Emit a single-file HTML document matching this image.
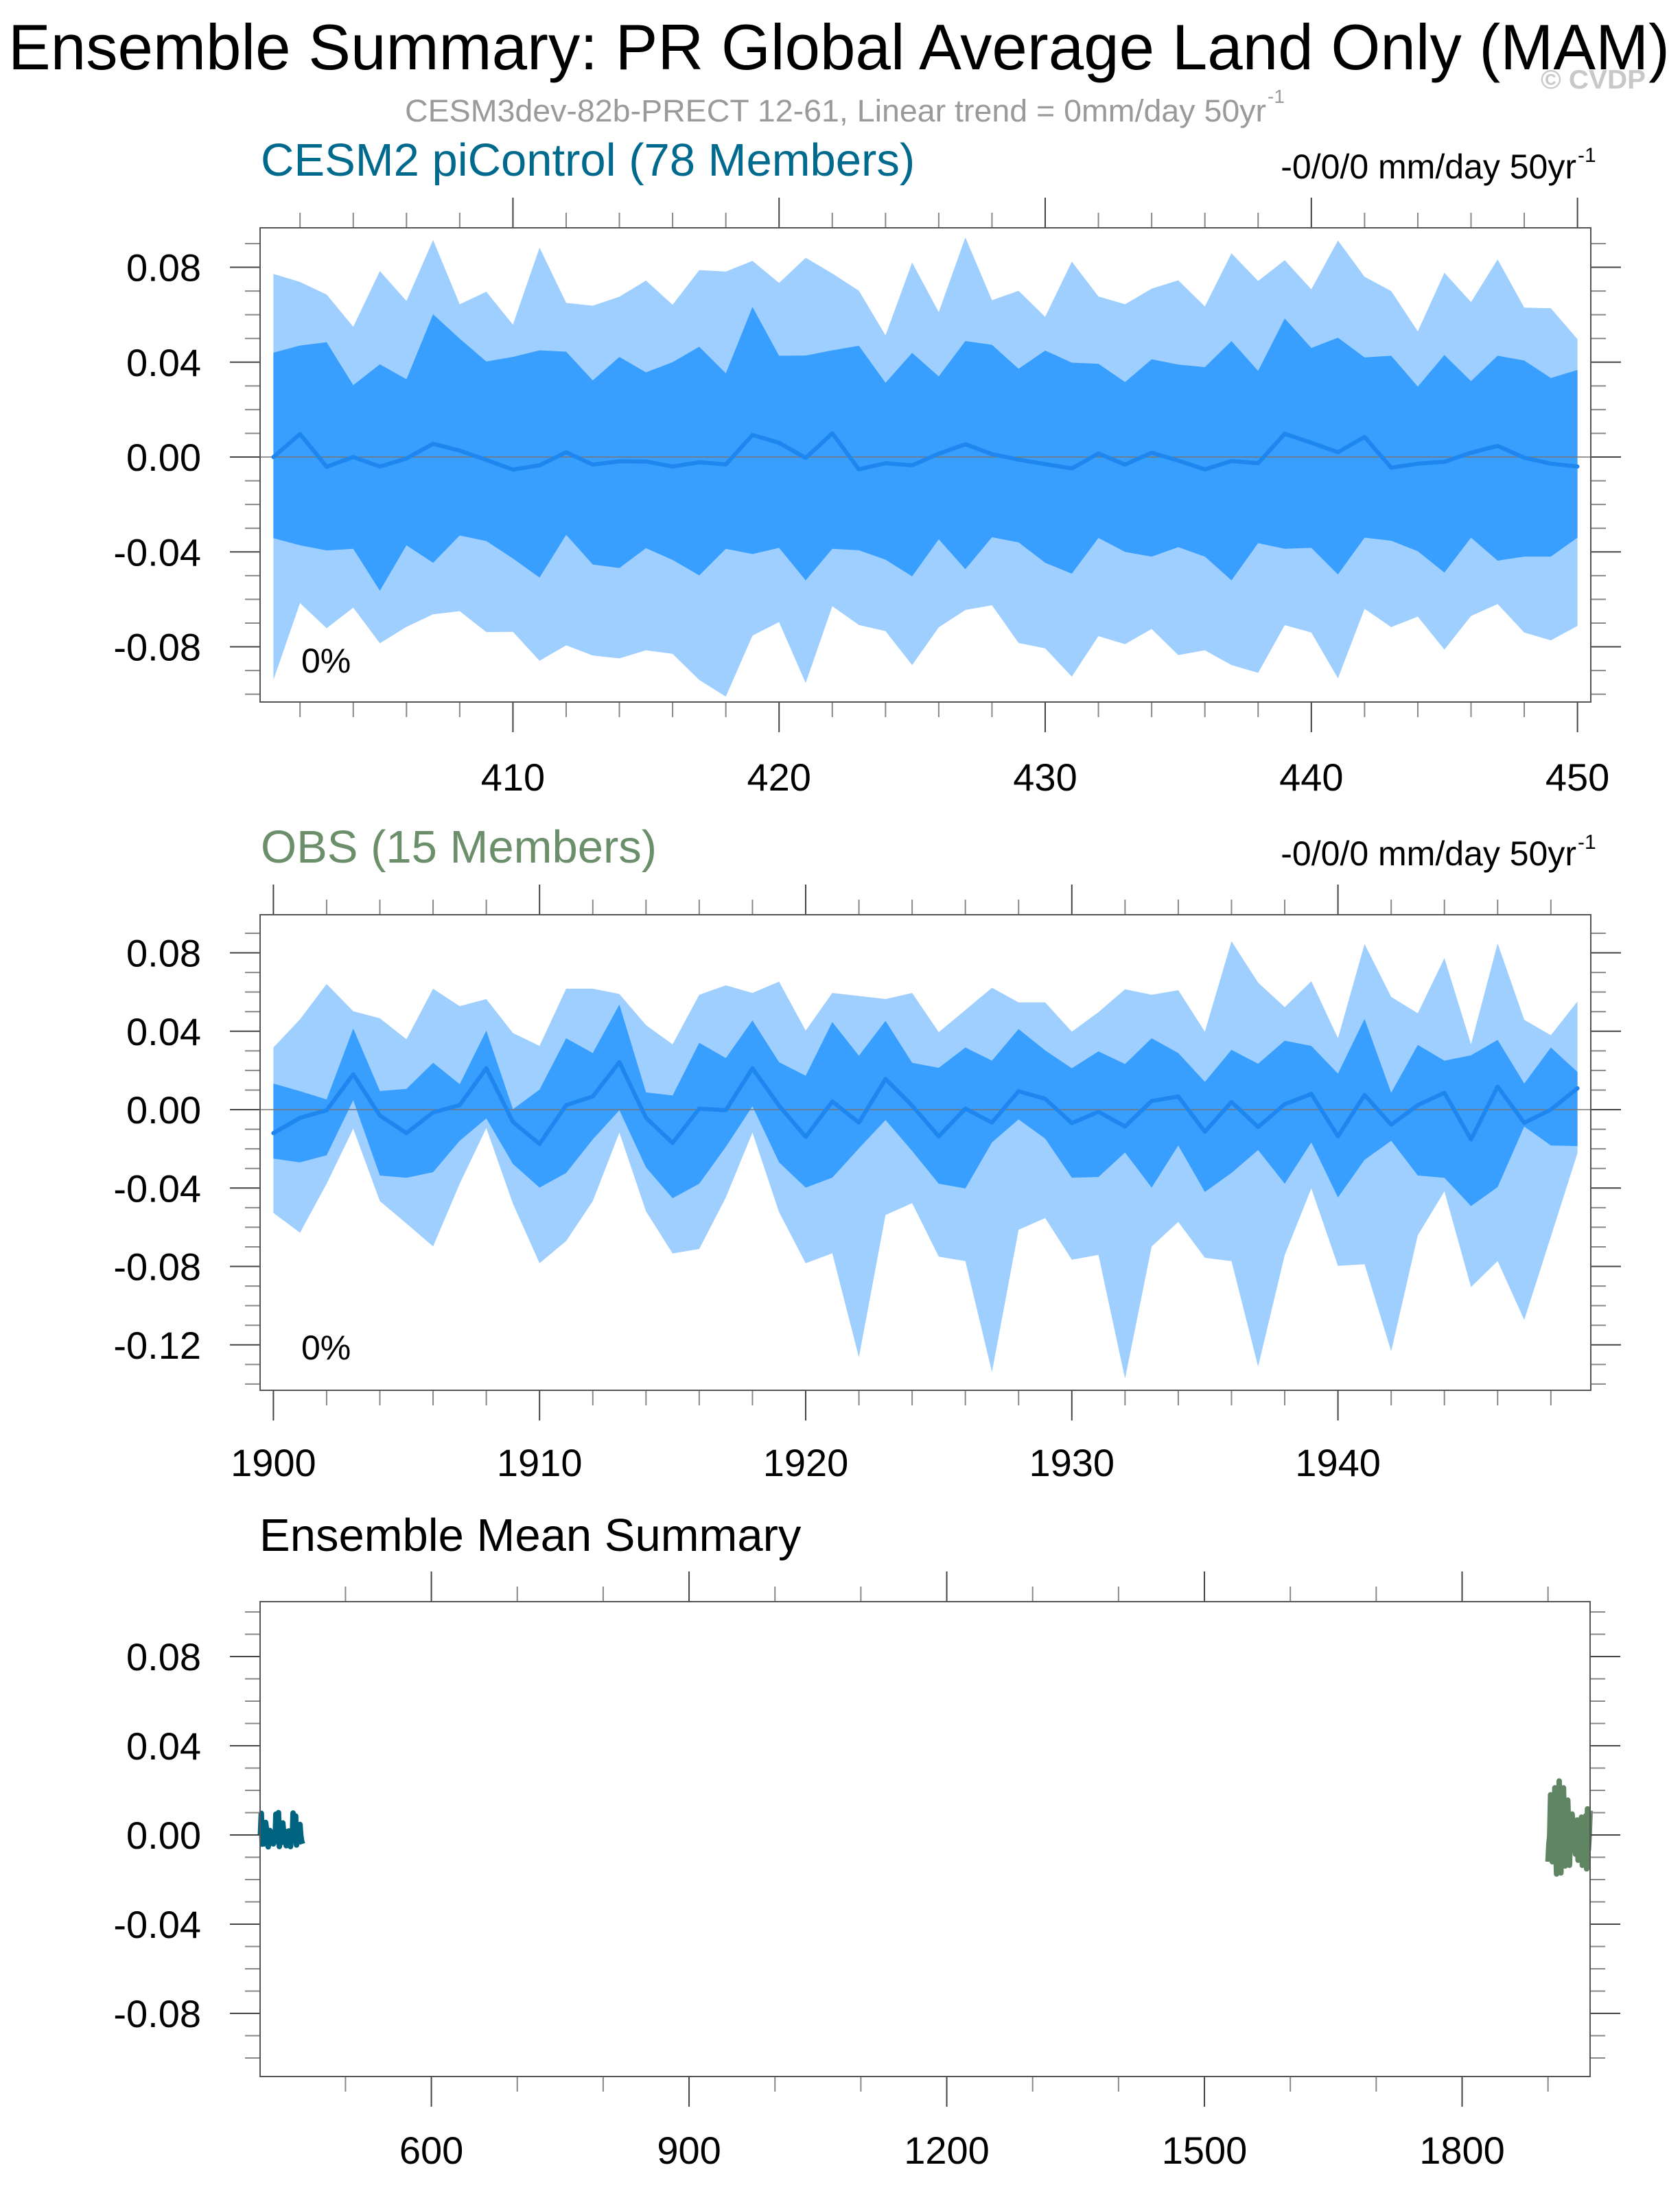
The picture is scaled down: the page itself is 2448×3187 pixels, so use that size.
<!DOCTYPE html>
<html><head><meta charset="utf-8"><title>Ensemble Summary</title>
<style>html,body{margin:0;padding:0;background:#fff}svg{display:block;font-family:"Liberation Sans",Arial,sans-serif}</style>
</head><body>
<svg id="chart" xmlns="http://www.w3.org/2000/svg" width="2448" height="3187" viewBox="0 0 2448 3187">
<text x="12" y="101" font-size="94" textLength="2421" lengthAdjust="spacingAndGlyphs" fill="#000">Ensemble Summary: PR Global Average Land Only (MAM)</text>
<text x="2245" y="129" font-size="39" font-weight="bold" fill="#c8c8c8" textLength="153" lengthAdjust="spacingAndGlyphs">© CVDP</text>
<text x="590" y="177" font-size="45" fill="#9a9a9a" textLength="1255" lengthAdjust="spacingAndGlyphs">CESM3dev-82b-PRECT 12-61, Linear trend = 0mm/day 50yr</text>
<text x="1847" y="150" font-size="28" fill="#9a9a9a">-1</text>
<g id="plots"></g>
</svg>
<script>
// ---- CESM2 piControl data (years 401..450) ----
const cesmYearStart = 401;
const cesmUpper2 = [.0772,.0738,.0685,.0549,.0784,.0658,.0915,.0644,.0697,.0558,.0883,.0650,.0638,.0676,.0744,.0642,.0788,.0782,.0827,
 .0734,.084,.0774,.0701,.0513,.082,.0611,.0926,.0661,.0701,.0591,.0824,.0677,.0644,.071,.0745,.0635,.0859,.0742,.083,
 .0707,.0913,.076,.07,.053,.0777,.0653,.0833,.063,.0627,.0497];
const cesmUpper1 = [.044,.047,.0484,.0303,.0391,.0328,.0602,.0499,.0403,.0422,.045,.0444,.0323,.0422,.0357,.04,.0465,.0353,.0633,
 .0427,.0428,.045,.0469,.0313,.0439,.034,.0489,.0473,.0372,.0449,.0398,.0393,.0316,.0412,.039,.0379,.0489,.0363,.0584,
 .046,.0503,.042,.0427,.0297,.043,.032,.0427,.0407,.0333,.0367];
const cesmMean = [0,.0097,-.0041,0,-.004,-.0006,.0056,.0027,-.0012,-.0053,-.0035,.002,-.0032,-.0018,-.0019,-.004,-.0022,-.0031,.0093,
 .006,-.0004,.01,-.0052,-.0026,-.0035,.0014,.0054,.0012,-.0011,-.003,-.0048,.0015,-.0032,.0018,-.0015,-.0052,-.0017,-.0026,.0098,
 .006,.002,.0085,-.0045,-.0028,-.002,.0018,.0047,-.0003,-.0028,-.004];
const cesmLower1 = [-.0342,-.0372,-.0394,-.0387,-.0564,-.0372,-.0446,-.0331,-.0354,-.0428,-.0508,-.0328,-.0453,-.0468,-.0384,-.0434,-.0499,-.0387,-.0409,
 -.0383,-.052,-.0387,-.0393,-.0433,-.0503,-.0347,-.0473,-.0338,-.036,-.0446,-.0492,-.0341,-.04,-.042,-.038,-.042,-.052,-.0363,-.0387,
 -.0383,-.0495,-.034,-.0353,-.0397,-.0487,-.034,-.0437,-.042,-.042,-.034];
const cesmLower2 = [-.094,-.0616,-.0722,-.0635,-.0785,-.0716,-.0663,-.065,-.0738,-.0737,-.0859,-.0794,-.0837,-.0849,-.0815,-.083,-.094,-.101,-.0753,
 -.0696,-.0953,-.0629,-.0708,-.0734,-.0877,-.0718,-.0645,-.0625,-.0784,-.0807,-.0926,-.0755,-.0789,-.0725,-.0835,-.0815,-.0877,-.091,-.0709,
 -.074,-.0933,-.064,-.0717,-.0673,-.0812,-.067,-.062,-.074,-.0773,-.0712];
// ---- OBS data (years 1900..1949) ----
const obsYearStart = 1900;
const obsUpper2 = [.0317,.0461,.0641,.0502,.0466,.0359,.0617,.0528,.0564,.0391,.0325,.0617,.0617,.059,.0431,.0333,.0586,.0634,
 .0595,.0653,.0403,.0595,.058,.0564,.0595,.0395,.0508,.0622,.0547,.0547,.0398,.0497,.0614,.0586,
 .0609,.0398,.0859,.0648,.0523,.0655,.0364,.0845,.0575,.0492,.0773,.0333,.0848,.0458,.038,.0552];
const obsUpper1 = [.0133,.0094,.0052,.0414,.0095,.0106,.0239,.013,.0403,.0002,.0102,.0364,.0289,.0536,.0088,.0072,.0341,.0263,
 .0455,.0242,.0173,.0447,.0275,.0453,.0239,.0213,.0317,.025,.0411,.0302,.0211,.0297,.0233,.0364,
 .0289,.0142,.0305,.0234,.0352,.0325,.0184,.0463,.0086,.033,.025,.0277,.0356,.0133,.0317,.0192];
const obsMean = [-.012,-.0042,-.0003,.018,-.003,-.012,-.0014,.0023,.0211,-.0063,-.0175,.0023,.0067,.0242,-.0042,-.017,.0005,-.0003,
 .0211,.002,-.0139,.0041,-.0066,.0156,.002,-.0136,.0005,-.0066,.0094,.0055,-.0069,-.0011,-.0086,.0044,
 .0067,-.0113,.0039,-.0089,.0028,.008,-.0136,.0075,-.0077,.0023,.0086,-.0152,.0117,-.0067,0,.0109];
const obsLower1 = [-.025,-.0269,-.0233,.0048,-.0336,-.0348,-.0319,-.0159,-.0045,-.0277,-.0398,-.0323,-.0152,-.0003,-.0295,-.0452,-.0378,-.019,
 .0017,-.0269,-.0398,-.0347,-.0198,-.0053,-.0211,-.0378,-.0402,-.0167,-.005,-.0148,-.0347,-.0344,-.0219,-.0398,
 -.0183,-.042,-.0323,-.0206,-.0378,-.0167,-.0448,-.0256,-.0159,-.0336,-.0348,-.0492,-.0395,-.0086,-.0183,-.0186];
const obsLower2 = [-.0527,-.0628,-.0378,-.0097,-.0467,-.0581,-.0698,-.0378,-.0094,-.048,-.0784,-.067,-.0467,-.0117,-.0519,-.0734,-.0711,-.0448,
 -.0117,-.0523,-.0784,-.0733,-.1264,-.0538,-.0477,-.075,-.0773,-.1339,-.0613,-.0553,-.0766,-.0741,-.1373,-.0698,
 -.0573,-.0756,-.0773,-.1311,-.0742,-.0402,-.0797,-.0789,-.1233,-.0641,-.0417,-.0905,-.0773,-.1073,-.0648,-.0222];
// ---- tick labels ----
const p1XTicks = [410,420,430,440,450];
const p2XTicks = [1900,1910,1920,1930,1940];
const p3XTicks = [600,900,1200,1500,1800];
const p1YTicks = [0.08,0.04,0,-0.04,-0.08];
const p2YTicks = [0.08,0.04,0,-0.04,-0.08,-0.12];
const p3YTicks = [0.08,0.04,0,-0.04,-0.08];

const NS = "http://www.w3.org/2000/svg";
const root = document.getElementById('plots');
function mk(tag, attrs, parent){const e=document.createElementNS(NS,tag);for(const k in attrs)e.setAttribute(k,attrs[k]);(parent||root).appendChild(e);return e;}
function scale(d0,d1,r0,r1){return v=>r0+(v-d0)*(r1-r0)/(d1-d0);}

function axes(g,P){
  const {L,R,T,B,x,y,xMin,xMax,xMinor,xMajor,yMinor,yMin,yMax,xTicks,yTicks}=P;
  for(let v=Math.ceil(xMin/xMinor)*xMinor; v<=xMax; v+=xMinor){
    const px=x(v); const major=Math.abs(v/xMajor-Math.round(v/xMajor))<1e-6; const len=major?44:22;
    const t1=mk('line',{x1:px,x2:px,y1:B,y2:B+len,stroke:major?'#444':'#888','stroke-width':2},g);
    
    
    const t2=mk('line',{x1:px,x2:px,y1:T,y2:T-len,stroke:major?'#444':'#888','stroke-width':2},g);
    
    
  }
  const nMin=Math.ceil(yMin/yMinor-1e-6), nMax=Math.floor(yMax/yMinor+1e-6);
  for(let n=nMin;n<=nMax;n++){
    const v=n*yMinor; const py=y(v); const major=(n%4===0); const len=major?44:22;
    const t1=mk('line',{x1:L,x2:L-len,y1:py,y2:py,stroke:major?'#444':'#888','stroke-width':2},g);
    
    
    const t2=mk('line',{x1:R,x2:R+len,y1:py,y2:py,stroke:major?'#444':'#888','stroke-width':2},g);
    
    
  }
  xTicks.forEach(v=>{
    const t=mk('text',{x:x(v),y:P.xLabelY,'font-size':56,'text-anchor':'middle',fill:'#000'},g);
    t.textContent=String(v);
    
    
  });
  yTicks.forEach(v=>{
    const t=mk('text',{x:293,y:y(v)+20,'font-size':56,'text-anchor':'end',fill:'#000'},g);
    t.textContent=v.toFixed(2);
    
    
  });
  const box=mk('rect',{x:L,y:T,width:R-L,height:B-T,fill:'none',stroke:'#555','stroke-width':2},g);
  
  
}

function bandPanel(name,P,start,u2,u1,mean,l1,l2,title,titleColor,titleY){
  const g=mk('g',{});
  
  
  const {x,y}=P;
  const pts=(up,lo)=>up.map((v,i)=>x(start+i)+','+y(v)).concat(lo.map((v,i)=>x(start+i)+','+y(v)).reverse()).join(' ');
  const outer=mk('polygon',{points:pts(u2,l2),fill:'#9fcfff'},g);
  
  
  const inner=mk('polygon',{points:pts(u1,l1),fill:'#389fff'},g);
  
  
  const z=mk('line',{x1:P.L,x2:P.R,y1:y(0),y2:y(0),stroke:'#777','stroke-width':1.5},g);
  
  
  const ml=mk('polyline',{points:mean.map((v,i)=>x(start+i)+','+y(v)).join(' '),fill:'none',stroke:'#1e87ef','stroke-width':6,'stroke-linejoin':'round','stroke-linecap':'round'},g);
  
  
  axes(g,P);
  const pct=mk('text',{x:439,y:P.pctY,'font-size':50,fill:'#000'},g);
  pct.textContent='0%';
  
  
  const t=mk('text',{x:380,y:titleY,'font-size':67,fill:titleColor},g);
  t.textContent=title;
  
  
  const tr=mk('text',{x:2297,y:titleY+4,'font-size':50,'text-anchor':'end',fill:'#000'},g);
  tr.textContent='-0/0/0 mm/day 50yr';
  
  
  const sup=mk('text',{x:2299,y:titleY-20,'font-size':30,fill:'#000'},g);
  sup.textContent='-1';
  
  
}

// Panel 1
(function(){
  const L=379,R=2318,T=332,B=1023;
  const x=scale(400.5,450.5,L,R), y=scale(0,0.08,666,389.5);
  bandPanel('cesm2-picontrol-panel',{L,R,T,B,x,y,xMin:400.5,xMax:450.5,xMinor:2,xMajor:10,yMinor:0.01,yMin:-0.1033,yMax:0.0967,xTicks:p1XTicks,yTicks:p1YTicks,xLabelY:1152,pctY:980},
    cesmYearStart,cesmUpper2,cesmUpper1,cesmMean,cesmLower1,cesmLower2,'CESM2 piControl (78 Members)','#006a8e',256);
})();
// Panel 2
(function(){
  const L=379,R=2318,T=1333,B=2026;
  const x=scale(1899.5,1949.5,L,R), y=scale(0,0.08,1617,1388.5);
  bandPanel('obs-panel',{L,R,T,B,x,y,xMin:1899.5,xMax:1949.5,xMinor:2,xMajor:10,yMinor:0.01,yMin:-0.1431,yMax:0.0994,xTicks:p2XTicks,yTicks:p2YTicks,xLabelY:2151,pctY:1981},
    obsYearStart,obsUpper2,obsUpper1,obsMean,obsLower1,obsLower2,'OBS (15 Members)','#6a8f6a',1257);
})();
// Panel 3
(function(){
  const L=379,R=2317,T=2334,B=3026;
  const x=scale(400.6,1949,L,R), y=scale(0,0.08,2674,2414);
  const g=mk('g',{});
  
  
  const c=mk('polyline',{points:cesmMean.map((v,i)=>x(cesmYearStart+i)+','+y(v)).join(' '),fill:'none',stroke:'#00637f','stroke-width':8,'stroke-linejoin':'round'},g);
  
  
  const o=mk('polyline',{points:obsMean.map((v,i)=>x(obsYearStart+i)+','+y(v)).join(' '),fill:'none',stroke:'#5f8562','stroke-width':8,'stroke-linejoin':'round'},g);
  
  
  axes(g,{L,R,T,B,x,y,xMin:400.6,xMax:1949,xMinor:100,xMajor:300,yMinor:0.01,yMin:-0.1088,yMax:0.1049,xTicks:p3XTicks,yTicks:p3YTicks,xLabelY:3153});
  const t=mk('text',{x:378,y:2260,'font-size':67,fill:'#000'},g);
  t.textContent='Ensemble Mean Summary';
  
  
})();
</script>
</body></html>
